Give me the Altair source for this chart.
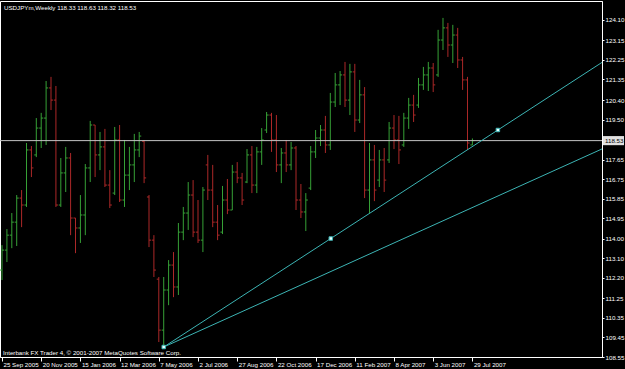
import altair as alt
import pandas as pd
import numpy as np

symbol = "USDJPYm,Weekly"
start_date = "2005-09-25"

opens = [112.56, 113.48, 114.17, 114.77, 115.88, 115.56, 118.10, 117.87, 119.11, 119.57,
         120.96, 120.40, 115.56, 117.04, 117.73, 114.96, 114.50, 115.10, 117.27, 119.25,
         117.87, 118.24, 116.48, 116.11, 118.56, 115.79, 116.94, 117.41, 118.10, 118.50,
         115.93, 113.94, 112.14, 109.79, 111.64, 112.79, 111.78, 114.31, 115.19, 116.02,
         114.31, 113.94, 117.41, 116.25, 114.77, 114.31, 115.79, 115.33, 117.08, 116.81,
         116.62, 117.87, 116.48, 118.01, 119.02, 119.71, 118.56, 117.41, 117.96, 117.41,
         118.19, 115.79, 115.24, 116.34, 118.01, 118.65, 119.02, 118.33, 120.31, 121.10,
         121.56, 120.40, 121.70, 119.48, 120.64, 116.25, 117.64, 116.71, 117.64, 117.64,
         119.11, 118.56, 118.33, 119.57, 120.17, 120.17, 121.10, 121.56, 121.88, 121.56,
         123.17, 123.73, 122.94, 123.40, 122.25, 121.33, 118.33]
highs = [113.71, 114.45, 115.19, 116.02, 116.25, 118.42, 118.28, 119.57, 119.81, 121.28,
         121.47, 121.05, 117.73, 118.24, 117.96, 114.96, 116.02, 117.45, 119.44, 119.25,
         118.93, 119.07, 117.17, 119.16, 119.25, 118.56, 118.24, 118.84, 118.93, 118.56,
         116.02, 114.17, 112.24, 112.24, 113.02, 113.39, 114.73, 115.47, 116.62, 116.71,
         115.79, 116.39, 117.87, 117.41, 115.56, 116.44, 116.76, 117.41, 117.54, 117.04,
         118.14, 118.28, 118.24, 119.11, 119.85, 119.81, 119.71, 118.19, 118.56, 118.47,
         118.28, 116.53, 116.11, 118.28, 119.02, 119.25, 119.67, 120.73, 121.65, 121.74,
         122.16, 122.07, 122.07, 121.33, 121.00, 118.42, 118.33, 118.10, 118.19, 119.39,
         119.71, 119.67, 119.81, 120.50, 120.64, 121.42, 121.93, 122.16, 122.11, 123.64,
         124.19, 123.96, 123.87, 123.73, 122.39, 121.47, 118.63]
lows = [112.10, 112.93, 113.57, 113.67, 114.54, 115.47, 116.85, 117.77, 118.19, 118.33,
        119.94, 115.47, 115.47, 116.16, 114.17, 113.34, 113.81, 114.17, 116.62, 116.85,
        117.17, 116.39, 115.42, 116.02, 115.70, 115.47, 116.25, 116.62, 117.77, 116.57,
        113.62, 112.24, 109.24, 109.01, 110.94, 111.31, 111.41, 113.94, 114.41, 114.08,
        113.81, 113.39, 115.79, 114.54, 113.94, 114.22, 115.14, 115.33, 116.57, 115.56,
        116.57, 116.11, 116.11, 117.41, 118.88, 118.01, 117.08, 116.57, 117.08, 117.17,
        115.33, 114.96, 114.36, 116.25, 117.73, 118.28, 117.96, 118.10, 120.08, 120.17,
        120.08, 119.71, 118.93, 119.34, 115.88, 115.19, 115.74, 116.39, 116.16, 117.50,
        118.14, 117.45, 118.24, 119.07, 119.39, 120.04, 120.87, 120.82, 120.77, 121.47,
        122.71, 122.39, 122.11, 121.88, 120.87, 118.10, 118.32]
closes = [113.48, 114.17, 114.77, 115.88, 115.56, 118.10, 117.27, 119.11, 119.57, 120.96,
          120.40, 115.56, 117.04, 117.73, 114.96, 114.50, 115.10, 117.27, 119.25, 117.87,
          118.24, 116.48, 115.56, 118.56, 115.79, 116.94, 117.41, 118.10, 118.74, 116.81,
          113.94, 112.56, 109.79, 111.64, 112.79, 111.78, 114.31, 115.19, 116.02, 114.31,
          113.94, 116.25, 116.25, 114.77, 114.17, 115.79, 115.33, 117.08, 116.81, 115.79,
          117.87, 116.48, 118.01, 118.56, 119.71, 118.56, 117.41, 117.96, 117.41, 118.19,
          115.79, 115.24, 115.79, 118.01, 118.65, 119.02, 118.33, 120.31, 121.10, 121.56,
          120.40, 121.70, 119.48, 120.64, 116.25, 117.64, 116.25, 117.64, 116.71, 119.11,
          118.56, 118.10, 119.57, 120.17, 119.71, 121.10, 121.56, 121.88, 121.10, 123.17,
          123.73, 122.94, 123.40, 122.25, 121.33, 118.42, 118.53]

# price-axis tick labels (right side) and bid line
price_ticks = [124.10, 123.15, 122.25, 121.35, 120.40, 119.50, 117.65, 116.75,
               115.85, 114.95, 114.00, 113.10, 112.20, 111.25, 110.35, 109.45, 108.55]
bid_price = 118.53

# trend lines: (bar index, price) anchor pairs
trend1 = [(33, 109.01), (101.2, 119.02)]
trend2 = [(33, 109.01), (122.0, 118.10)]

copyright_text = "Interbank FX Trader 4, \u00a9 2001-2007 MetaQuotes Software Corp."

GREEN = "#36a036"
RED = "#ac2828"
CYAN = "#3cb4b4"
FONT = "Liberation Sans"
FS = 6.2

X_DOM = [-0.41, 122.45]
Y_DOM = [108.55, 124.97]

n = len(opens)
dates = pd.date_range(start_date, periods=n, freq="7D")
df = pd.DataFrame({"i": list(range(n)), "open": opens, "high": highs,
                   "low": lows, "close": closes})
df["dir"] = np.where(df["close"] >= df["open"], "up", "down")

label_idx = list(range(0, n, 8))
label_txt = [f"{dates[k].day} {dates[k].strftime('%b %Y')}" for k in label_idx]
label_expr = "[" + ",".join(f"'{s}'" for s in label_txt) + "][round(datum.value / 8)]"

xaxis = alt.Axis(values=label_idx, labelExpr=label_expr, title=None, grid=False,
                 labelColor="white", labelFont=FONT, labelFontSize=FS,
                 labelAlign="left", labelBaseline="top", labelOffset=1,
                 labelPadding=0, tickSize=4, tickColor="white", domainColor="white",
                 labelFlush=False, labelOverlap=False, labelBound=False)
yaxis = alt.Axis(orient="right", values=price_ticks, format=".2f", title=None,
                 grid=False, labelColor="white", labelFont=FONT, labelFontSize=FS,
                 tickSize=2, tickColor="white", domainColor="white", labelPadding=1,
                 labelFlush=False, labelOverlap=False, labelBound=False)

X = lambda f: alt.X(f, type="quantitative",
                    scale=alt.Scale(domain=X_DOM, nice=False, zero=False), axis=xaxis)
Y = lambda f: alt.Y(f, type="quantitative",
                    scale=alt.Scale(domain=Y_DOM, nice=False, zero=False), axis=yaxis)
color = alt.Color("dir:N", scale=alt.Scale(domain=["up", "down"], range=[GREEN, RED]),
                  legend=None)

base = alt.Chart(df)
hl = base.mark_rule(strokeWidth=1).encode(x=X("i"), y=Y("low"), y2="high", color=color)
op = base.transform_calculate(a="datum.i - 0.42").mark_rule(strokeWidth=1).encode(
    x=X("a"), x2="i", y=Y("open"), color=color)
cl = base.transform_calculate(b="datum.i + 0.42").mark_rule(strokeWidth=1).encode(
    x=X("i"), x2="b", y=Y("close"), color=color)

# bid line
bid_df = pd.DataFrame({"p": [bid_price], "x0": [X_DOM[0]], "x1": [X_DOM[1]],
                       "hi": [bid_price + 0.21], "lo": [bid_price - 0.21],
                       "t": [f"{bid_price:.2f}"]})
bid = alt.Chart(bid_df).mark_rule(color="#c4c4c4", strokeWidth=1).encode(
    x=X("x0"), x2="x1", y=Y("p"))
box = alt.Chart(bid_df).mark_rect(color="#e0e0e0", clip=False).encode(
    x=alt.value(603), x2=alt.value(624), y=Y("lo"), y2="hi")
box_t = alt.Chart(bid_df).mark_text(color="black", font=FONT, fontSize=FS,
                                    align="left", baseline="middle", clip=False).encode(
    x=alt.value(605), y=Y("p"), text="t:N")

# trend lines extended as rays to the right edge
rows = []
for k, ((x1, y1), (x2, y2)) in enumerate([trend1, trend2]):
    slope = (y2 - y1) / (x2 - x1)
    rows.append({"line": k, "x": x1, "y": y1})
    rows.append({"line": k, "x": X_DOM[1], "y": y1 + slope * (X_DOM[1] - x1)})
tl_df = pd.DataFrame(rows)
tl = alt.Chart(tl_df).mark_line(color=CYAN, strokeWidth=1, clip=True).encode(
    x=X("x"), y=Y("y"), detail="line:N")

(ax1, ay1), (ax2, ay2) = trend1
mk_df = pd.DataFrame({"x": [ax1, (ax1 + ax2) / 2, ax2], "y": [ay1, (ay1 + ay2) / 2, ay2]})
mk = alt.Chart(mk_df).mark_square(size=12, color="#e8ffff", stroke=CYAN,
                                  strokeWidth=1, opacity=1).encode(x=X("x"), y=Y("y"))

last = df.iloc[-1]
title_df = pd.DataFrame({"t": [f"{symbol}  {last.open:.2f} {last.high:.2f} "
                               f"{last.low:.2f} {last.close:.2f}"]})
title = alt.Chart(title_df).mark_text(color="white", font=FONT, fontSize=FS,
                                      align="left", baseline="middle").encode(
    x=alt.value(4), y=alt.value(7), text="t:N")
copy_df = pd.DataFrame({"t": [copyright_text]})
copy = alt.Chart(copy_df).mark_text(color="white", font=FONT, fontSize=FS,
                                    align="left", baseline="middle").encode(
    x=alt.value(3), y=alt.value(352), text="t:N")

chart = alt.layer(hl, op, cl, bid, tl, mk, box, box_t, title, copy).properties(
    width=602, height=356, background="black",
    autosize=alt.AutoSizeParams(type="none"),
    padding={"left": 0, "top": 1, "right": 23, "bottom": 12},
).configure_view(stroke="white", strokeWidth=1, fill="black")

chart.save("out.html", embed_options={"renderer": "svg", "actions": False})
